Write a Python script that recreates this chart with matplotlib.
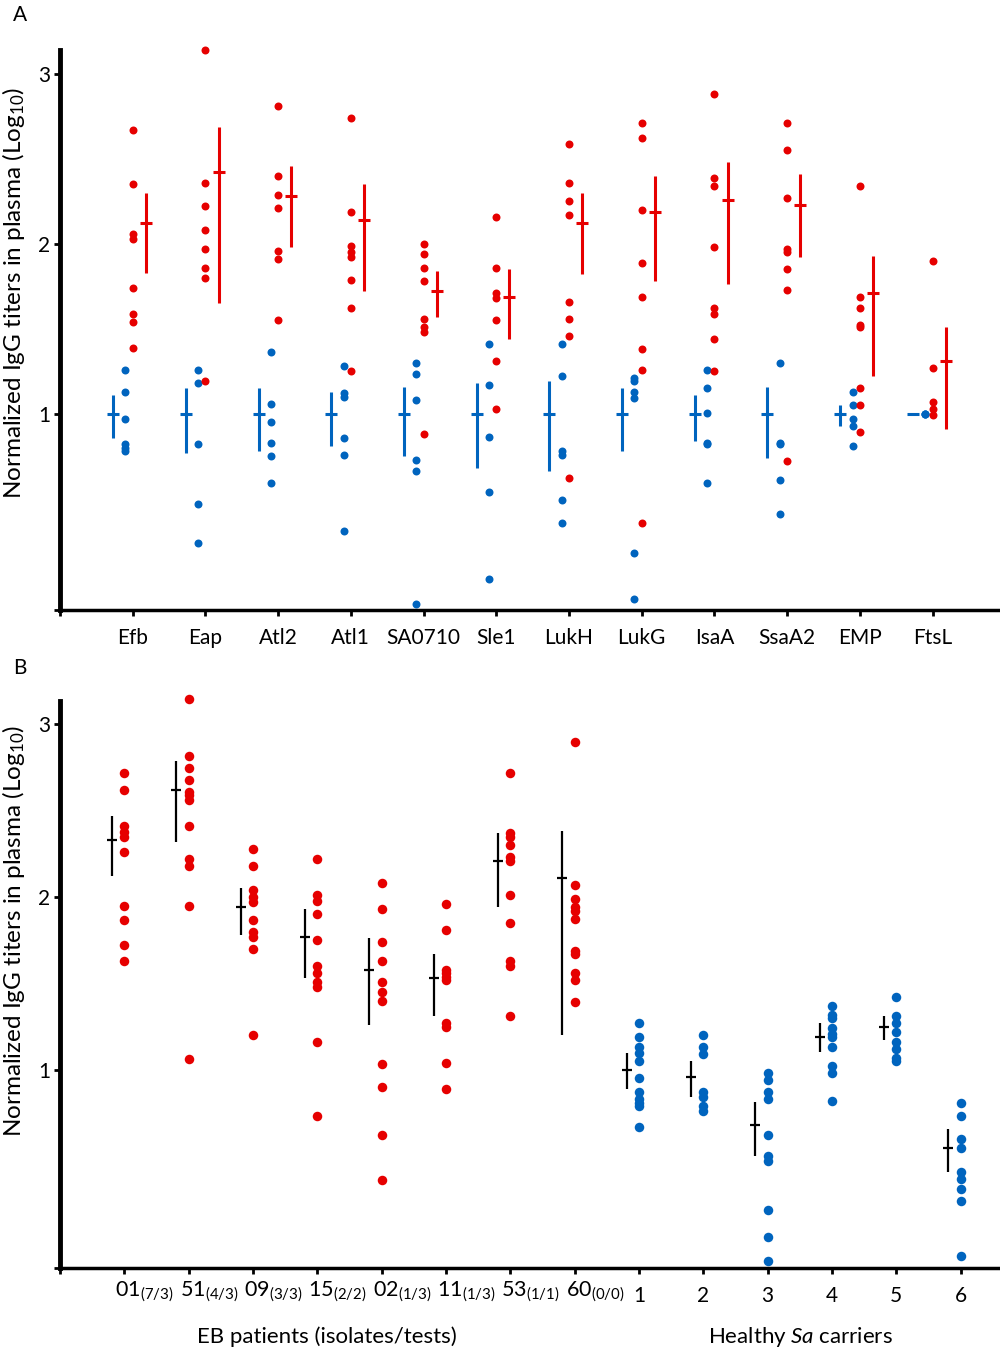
import matplotlib
matplotlib.use("Agg")
import matplotlib.pyplot as plt

plt.rcParams['font.family'] = ['Lato', 'DejaVu Sans']
plt.rcParams['mathtext.fontset'] = 'custom'
plt.rcParams['mathtext.rm'] = 'Lato'
plt.rcParams['mathtext.it'] = 'Lato:italic'

RED = '#e60000'
BLUE = '#0064be'

# ---- panel A: antigens ----
cats_a = ['Efb', 'Eap', 'Atl2', 'Atl1', 'SA0710', 'Sle1', 'LukH', 'LukG',
          'IsaA', 'SsaA2', 'EMP', 'FtsL']

red_a = [
    [2.67, 2.35, 2.06, 2.03, 1.74, 1.59, 1.54, 1.39],
    [3.14, 2.36, 2.22, 2.08, 1.97, 1.86, 1.80, 1.19],
    [2.81, 2.40, 2.29, 2.21, 1.96, 1.91, 1.55],
    [2.74, 2.19, 1.99, 1.95, 1.92, 1.79, 1.62, 1.25],
    [2.00, 1.94, 1.86, 1.78, 1.56, 1.51, 1.48, 0.88],
    [2.16, 1.86, 1.71, 1.68, 1.55, 1.31, 1.03],
    [2.59, 2.36, 2.25, 2.17, 1.66, 1.56, 1.46, 0.62],
    [2.71, 2.62, 2.20, 1.89, 1.69, 1.38, 1.26, 0.36],
    [2.88, 2.39, 2.34, 1.98, 1.62, 1.59, 1.44, 1.25],
    [2.71, 2.55, 2.27, 1.97, 1.95, 1.85, 1.73, 0.72],
    [2.34, 1.69, 1.62, 1.52, 1.51, 1.15, 1.05, 0.89],
    [1.90, 1.27, 1.07, 1.03, 0.99],
]
red_mean = [2.12, 2.42, 2.28, 2.14, 1.72, 1.69, 2.12, 2.19, 2.26, 2.23, 1.71, 1.31]
red_hi = [2.30, 2.69, 2.46, 2.35, 1.84, 1.85, 2.30, 2.40, 2.48, 2.41, 1.93, 1.51]
red_lo = [1.83, 1.65, 1.98, 1.72, 1.57, 1.44, 1.82, 1.78, 1.765, 1.92, 1.22, 0.91]

blue_a = [
    [1.26, 1.13, 0.97, 0.82, 0.80, 0.78],
    [1.26, 1.18, 0.82, 0.47, 0.24],
    [1.365, 1.06, 0.95, 0.83, 0.75, 0.59],
    [1.28, 1.12, 1.10, 0.86, 0.76, 0.31],
    [1.30, 1.235, 1.08, 0.73, 0.665, -0.12],
    [1.41, 1.17, 0.865, 0.54, 0.03],
    [1.41, 1.22, 0.78, 0.76, 0.49, 0.36],
    [1.21, 1.19, 1.13, 1.09, 0.18, -0.09],
    [1.26, 1.15, 1.006, 0.83, 0.82, 0.59],
    [1.30, 0.83, 0.82, 0.61, 0.41],
    [1.13, 1.05, 0.97, 0.93, 0.81],
    [1.0, 1.0, 1.0],
]
blue_mean = [1.0] * 12
blue_hi = [1.11, 1.15, 1.15, 1.13, 1.16, 1.18, 1.19, 1.15, 1.11, 1.16, 1.05, 1.0]
blue_lo = [0.86, 0.77, 0.78, 0.81, 0.75, 0.68, 0.665, 0.78, 0.84, 0.74, 0.93, 1.0]

# ---- panel B: individuals ----
eb_ids = ['01', '51', '09', '15', '02', '11', '53', '60']
eb_sub = ['(7/3)', '(4/3)', '(3/3)', '(2/2)', '(1/3)', '(1/3)', '(1/1)', '(0/0)']
eb_vals = [
    [2.72, 2.62, 2.41, 2.38, 2.35, 2.26, 1.95, 1.87, 1.72, 1.63],
    [3.15, 2.82, 2.75, 2.68, 2.61, 2.59, 2.56, 2.41, 2.22, 2.18, 1.95, 1.06],
    [2.28, 2.18, 2.04, 2.00, 1.97, 1.87, 1.80, 1.77, 1.70, 1.20],
    [2.22, 2.01, 1.98, 1.90, 1.75, 1.60, 1.56, 1.51, 1.48, 1.16, 0.73],
    [2.08, 1.93, 1.74, 1.63, 1.51, 1.45, 1.40, 1.035, 0.90, 0.62, 0.36],
    [1.96, 1.81, 1.58, 1.56, 1.54, 1.52, 1.27, 1.25, 1.04, 0.89],
    [2.72, 2.37, 2.35, 2.30, 2.23, 2.21, 2.01, 1.85, 1.63, 1.60, 1.31],
    [2.90, 2.07, 1.99, 1.945, 1.92, 1.875, 1.69, 1.67, 1.56, 1.52, 1.39],
]
eb_mean = [2.33, 2.62, 1.94, 1.77, 1.58, 1.53, 2.21, 2.11]
eb_hi = [2.47, 2.79, 2.055, 1.93, 1.765, 1.67, 2.37, 2.385]
eb_lo = [2.12, 2.32, 1.78, 1.53, 1.26, 1.31, 1.945, 1.20]

hc_ids = ['1', '2', '3', '4', '5', '6']
hc_vals = [
    [1.27, 1.19, 1.13, 1.10, 1.05, 0.95, 0.87, 0.83, 0.81, 0.79, 0.67],
    [1.20, 1.13, 1.09, 0.87, 0.84, 0.79, 0.76],
    [0.98, 0.94, 0.87, 0.83, 0.62, 0.50, 0.47, 0.19, 0.03, -0.11],
    [1.37, 1.32, 1.30, 1.24, 1.21, 1.19, 1.13, 1.02, 0.98, 0.82],
    [1.42, 1.31, 1.27, 1.22, 1.16, 1.12, 1.07, 1.05],
    [0.81, 0.73, 0.60, 0.55, 0.41, 0.37, 0.31, 0.24, -0.08],
]
hc_mean = [1.0, 0.96, 0.68, 1.19, 1.25, 0.55]
hc_hi = [1.10, 1.05, 0.815, 1.27, 1.31, 0.66]
hc_lo = [0.89, 0.84, 0.50, 1.105, 1.17, 0.41]

YLABEL = 'Normalized IgG titers in plasma (Log$_{10}$)'


def style_axes(ax, ymin, ymax, xmax):
    for s in ['top', 'right']:
        ax.spines[s].set_visible(False)
    ax.spines['left'].set_linewidth(3.5)
    ax.spines['bottom'].set_linewidth(2.5)
    ax.set_ylim(ymin, ymax)
    ax.set_xlim(0, xmax)
    ax.set_yticks([ymin, 1, 2, 3])
    ax.set_yticklabels(['', '1', '2', '3'])
    ax.tick_params(axis='both', direction='out', length=4, width=2,
                   labelsize=15)
    ax.tick_params(axis='y', pad=3)
    ax.tick_params(axis='x', pad=9)


def draw_bar(ax, x, mean, lo, hi, color, lw, msize):
    ax.errorbar([x], [mean], yerr=[[mean - lo], [hi - mean]], fmt='_',
                color=color, ecolor=color, elinewidth=lw, capsize=0,
                markersize=msize, mew=lw, zorder=3)


fig = plt.figure(figsize=(10, 13.49), dpi=100)

# Panel A
axA = fig.add_axes([0.06, 0.548, 0.938, 0.415])
for i, name in enumerate(cats_a):
    x = i + 1
    axA.scatter([x - 0.1] * len(blue_a[i]), blue_a[i], s=33, color=BLUE,
                linewidths=0, zorder=2, clip_on=False)
    axA.scatter([x] * len(red_a[i]), red_a[i], s=33, color=RED,
                linewidths=0, zorder=2, clip_on=False)
    draw_bar(axA, x - 0.27, blue_mean[i], blue_lo[i], blue_hi[i], BLUE, 2.2, 8.5)
    draw_bar(axA, x + 0.18, red_mean[i], red_lo[i], red_hi[i], RED, 2.2, 8.5)

style_axes(axA, -0.153, 3.141, 12.9)
axA.set_xticks(range(0, 13))
axA.set_xticklabels([''] + cats_a)
axA.set_ylabel(YLABEL, fontsize=17.5)
axA.yaxis.set_label_coords(-0.035, 0.566)
fig.text(0.013, 0.989, 'A', fontsize=15, va='center')

# Panel B
axB = fig.add_axes([0.06, 0.06, 0.938, 0.42])
n_eb = len(eb_ids)
for i in range(n_eb):
    x = i + 1
    axB.scatter([x] * len(eb_vals[i]), eb_vals[i], s=47, color=RED,
                linewidths=0, zorder=2, clip_on=False)
    draw_bar(axB, x - 0.19, eb_mean[i], eb_lo[i], eb_hi[i], 'black', 1.6, 7)
for j in range(len(hc_ids)):
    x = n_eb + j + 1
    axB.scatter([x] * len(hc_vals[j]), hc_vals[j], s=47, color=BLUE,
                linewidths=0, zorder=2, clip_on=False)
    draw_bar(axB, x - 0.19, hc_mean[j], hc_lo[j], hc_hi[j], 'black', 1.6, 7)

style_axes(axB, -0.148, 3.133, 14.58)
axB.set_xticks(range(0, 15))
axB.set_xticklabels([''] * (n_eb + 1) + hc_ids)
for i, (pid, sub) in enumerate(zip(eb_ids, eb_sub)):
    axB.annotate(pid + r'$_{\mathrm{' + sub + '}}$', xy=(i + 1, 0),
                 xycoords=('data', 'axes fraction'), xytext=(-6.5, -17),
                 textcoords='offset points', ha='left', va='center',
                 fontsize=15.5)
axB.set_ylabel(YLABEL, fontsize=17.5)
axB.yaxis.set_label_coords(-0.035, 0.594)
fig.text(0.327, 0.009, 'EB patients (isolates/tests)', fontsize=16,
         ha='center', va='center')
fig.text(0.80, 0.009, r'Healthy $\mathit{Sa}$ carriers', fontsize=16,
         ha='center', va='center')
fig.text(0.013, 0.505, 'B', fontsize=15, va='center')

fig.savefig('out.png', dpi=100)
